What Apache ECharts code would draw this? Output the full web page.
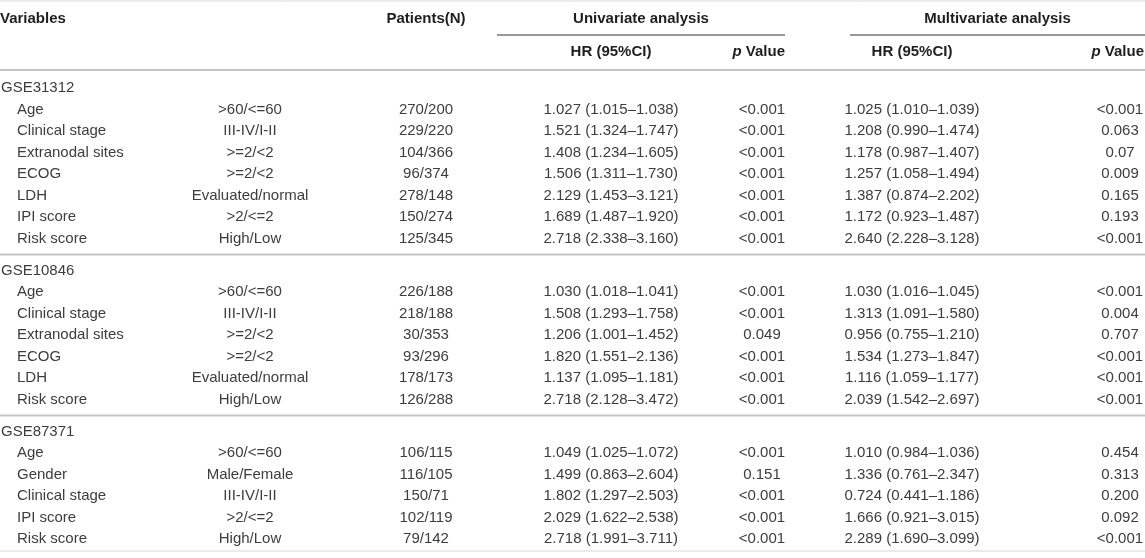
<!DOCTYPE html>
<html><head><meta charset="utf-8">
<script src="https://cdn.jsdelivr.net/npm/echarts@6/dist/echarts.min.js"></script>
<style>html,body{margin:0;padding:0;background:#fff}#c{width:1145px;height:558px}</style>
</head><body><div id="c"></div>
<script>
// ---------- data ----------
const datasets = ['GSE31312', 'GSE10846', 'GSE87371'];
const sectionSizes = [7, 6, 5];
const variables = [
  'Age', 'Clinical stage', 'Extranodal sites', 'ECOG', 'LDH', 'IPI score', 'Risk score',
  'Age', 'Clinical stage', 'Extranodal sites', 'ECOG', 'LDH', 'Risk score',
  'Age', 'Gender', 'Clinical stage', 'IPI score', 'Risk score'
];
const groups = [
  '>60/<=60', 'III-IV/I-II', '>=2/<2', '>=2/<2', 'Evaluated/normal', '>2/<=2', 'High/Low',
  '>60/<=60', 'III-IV/I-II', '>=2/<2', '>=2/<2', 'Evaluated/normal', 'High/Low',
  '>60/<=60', 'Male/Female', 'III-IV/I-II', '>2/<=2', 'High/Low'
];
const patients = [
  '270/200', '229/220', '104/366', '96/374', '278/148', '150/274', '125/345',
  '226/188', '218/188', '30/353', '93/296', '178/173', '126/288',
  '106/115', '116/105', '150/71', '102/119', '79/142'
];
const uniHR = [
  '1.027 (1.015–1.038)', '1.521 (1.324–1.747)', '1.408 (1.234–1.605)', '1.506 (1.311–1.730)',
  '2.129 (1.453–3.121)', '1.689 (1.487–1.920)', '2.718 (2.338–3.160)',
  '1.030 (1.018–1.041)', '1.508 (1.293–1.758)', '1.206 (1.001–1.452)', '1.820 (1.551–2.136)',
  '1.137 (1.095–1.181)', '2.718 (2.128–3.472)',
  '1.049 (1.025–1.072)', '1.499 (0.863–2.604)', '1.802 (1.297–2.503)', '2.029 (1.622–2.538)',
  '2.718 (1.991–3.711)'
];
const uniP = [
  '<0.001', '<0.001', '<0.001', '<0.001', '<0.001', '<0.001', '<0.001',
  '<0.001', '<0.001', '0.049', '<0.001', '<0.001', '<0.001',
  '<0.001', '0.151', '<0.001', '<0.001', '<0.001'
];
const multiHR = [
  '1.025 (1.010–1.039)', '1.208 (0.990–1.474)', '1.178 (0.987–1.407)', '1.257 (1.058–1.494)',
  '1.387 (0.874–2.202)', '1.172 (0.923–1.487)', '2.640 (2.228–3.128)',
  '1.030 (1.016–1.045)', '1.313 (1.091–1.580)', '0.956 (0.755–1.210)', '1.534 (1.273–1.847)',
  '1.116 (1.059–1.177)', '2.039 (1.542–2.697)',
  '1.010 (0.984–1.036)', '1.336 (0.761–2.347)', '0.724 (0.441–1.186)', '1.666 (0.921–3.015)',
  '2.289 (1.690–3.099)'
];
const multiP = [
  '<0.001', '0.063', '0.07', '0.009', '0.165', '0.193', '<0.001',
  '<0.001', '0.004', '0.707', '<0.001', '<0.001', '<0.001',
  '0.454', '0.313', '0.200', '0.092', '<0.001'
];
const headerTop = ['Variables', 'Patients(N)', 'Univariate analysis', 'Multivariate analysis'];
const headerSub = ['HR (95%CI)', '{i|p} Value', 'HR (95%CI)', '{i|p} Value'];

// ---------- layout (not data) ----------
const W = 1145, H = 558;
const L = {
  headTopY: 19, underlineY: 35, headSubY: 52, headLineY: 70,
  firstRowY: 88, rowH: 21.5, gap: 10.5, bottomPad: 12,
  sectionX: 1, varX: 17,
  groupX: 250, patX: 426, uniHRX: 611, uniPX: 762, multiHRX: 912, multiPX: 1120,
  uniSpan: [497, 785], multiSpan: [850, 1145]
};
const FONT = '"Liberation Sans", Arial, Helvetica, sans-serif';
const FS = 15;
const BODY_COLOR = '#3d3d3d', HEAD_COLOR = '#1e1e1e';

// build cells
const cells = [];   // [x, y, text, align, bold]
const rules = [];   // [x1, x2, y, lineWidth, color]
cells.push([0, L.headTopY, headerTop[0], 'left', 1]);
cells.push([L.patX, L.headTopY, headerTop[1], 'center', 1]);
cells.push([(L.uniSpan[0] + L.uniSpan[1]) / 2, L.headTopY, headerTop[2], 'center', 1]);
cells.push([(L.multiSpan[0] + L.multiSpan[1]) / 2, L.headTopY, headerTop[3], 'center', 1]);
cells.push([L.uniHRX, L.headSubY, headerSub[0], 'center', 1]);
cells.push([L.uniSpan[1], L.headSubY, headerSub[1], 'right', 1]);
cells.push([L.multiHRX, L.headSubY, headerSub[2], 'center', 1]);
cells.push([L.multiSpan[1] - 1, L.headSubY, headerSub[3], 'right', 1]);

rules.push([0, W, 1, 1, '#d6d6d6']);
rules.push([L.uniSpan[0], L.uniSpan[1], L.underlineY, 1, '#333']);
rules.push([L.multiSpan[0], L.multiSpan[1], L.underlineY, 1, '#333']);
rules.push([0, W, L.headLineY, 2, '#c4c4c4']);

let y = L.firstRowY, k = 0;
datasets.forEach((name, s) => {
  cells.push([L.sectionX, y, name, 'left', 0]);
  for (let r = 0; r < sectionSizes[s]; r++, k++) {
    y += L.rowH;
    cells.push([L.varX, y, variables[k], 'left', 0]);
    cells.push([L.groupX, y, groups[k], 'center', 0]);
    cells.push([L.patX, y, patients[k], 'center', 0]);
    cells.push([L.uniHRX, y, uniHR[k], 'center', 0]);
    cells.push([L.uniPX, y, uniP[k], 'center', 0]);
    cells.push([L.multiHRX, y, multiHR[k], 'center', 0]);
    cells.push([L.multiPX, y, multiP[k], 'center', 0]);
  }
  if (s < datasets.length - 1) {
    const ly = y + (L.rowH + L.gap) / 2;
    rules.push([0, W, ly, 2, '#c4c4c4']);
    y += L.rowH + L.gap;
  }
});
rules.push([0, W, y + L.bottomPad, 1, '#d6d6d6']);

const chart = echarts.init(document.getElementById('c'), null, {renderer: 'canvas'});
chart.setOption({
  animation: false,
  grid: {left: 0, right: 0, top: 0, bottom: 0},
  xAxis: {type: 'value', min: 0, max: W, show: false},
  yAxis: {type: 'value', min: 0, max: H, inverse: true, show: false},
  series: [
    {
      type: 'custom',
      data: rules,
      clip: false,
      renderItem: function (params, api) {
        const p1 = api.coord([api.value(0), api.value(2)]);
        const p2 = api.coord([api.value(1), api.value(2)]);
        const d = rules[params.dataIndex];
        return {
          type: 'line',
          shape: {x1: p1[0], y1: p1[1], x2: p2[0], y2: p2[1]},
          style: {stroke: d[4], lineWidth: d[3]}
        };
      }
    },
    {
      type: 'custom',
      data: cells.map(c => [c[0], c[1]]),
      clip: false,
      renderItem: function (params, api) {
        const c = cells[params.dataIndex];
        const p = api.coord([api.value(0), api.value(1)]);
        const bold = c[4] === 1;
        return {
          type: 'text',
          x: p[0], y: p[1],
          style: {
            text: c[2],
            x: 0, y: 0,
            align: c[3],
            verticalAlign: 'middle',
            font: (bold ? 'bold ' : '') + FS + 'px ' + FONT,
            fill: bold ? HEAD_COLOR : BODY_COLOR,
            rich: {i: {fontStyle: 'italic', fontWeight: 'bold', fontSize: FS, fontFamily: FONT, fill: HEAD_COLOR}}
          }
        };
      }
    }
  ]
});
</script>
</body></html>
